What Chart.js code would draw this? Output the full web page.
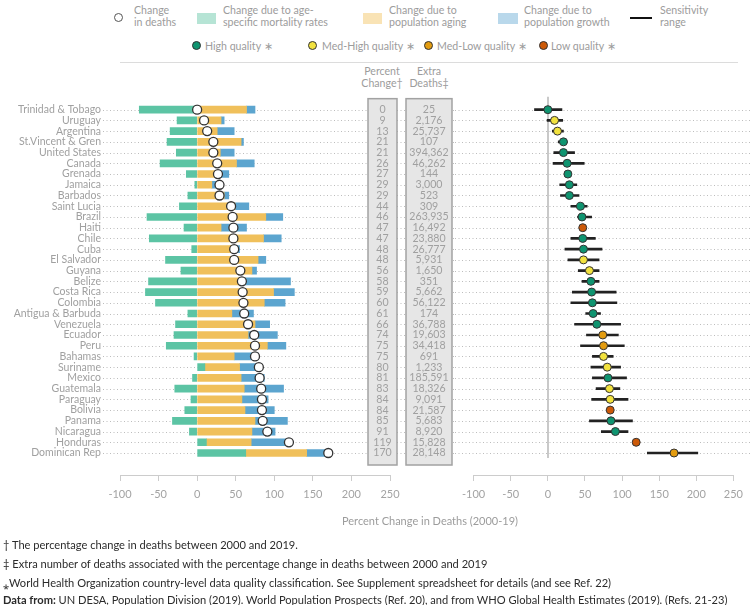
<!DOCTYPE html>
<html>
<head>
<meta charset="utf-8">
<script src="https://cdn.jsdelivr.net/npm/chart.js@4.4.1/dist/chart.umd.min.js"></script>
<style>
body { margin: 0; width: 750px; height: 605px; position: relative; background: #fff; font-family: Lato, "Open Sans", sans-serif; overflow: hidden; }
.abs { position: absolute; white-space: nowrap; }
.lg { font-size: 10.6px; line-height: 12px; color: #9c9c9c; }
.sw { position: absolute; }
.dot { position: absolute; width: 9px; height: 9px; border-radius: 50%; box-sizing: border-box; border: 1px solid #333; }
.foot { font-size: 11.1px; line-height: 14px; color: #2b2b2b; left: 3px; }
canvas { position: absolute; top: 0; }
</style>
</head>
<body>

<!-- legend row 1 -->
<div class="dot" style="left:114px;top:13px;background:#fff;border-color:#555"></div>
<div class="abs lg" style="left:134px;top:4px">Change<br>in deaths</div>
<div class="sw" style="left:197px;top:13px;width:19px;height:11px;background:#b6e4d5"></div>
<div class="abs lg" style="left:223px;top:4px">Change due to age-<br>specific mortality rates</div>
<div class="sw" style="left:363px;top:13px;width:19px;height:11px;background:#f9e3b5"></div>
<div class="abs lg" style="left:389px;top:4px">Change due to<br>population aging</div>
<div class="sw" style="left:498px;top:13px;width:20px;height:11px;background:#b9d8eb"></div>
<div class="abs lg" style="left:524px;top:4px">Change due to<br>population growth</div>
<div class="sw" style="left:630px;top:17px;width:22px;height:2px;background:#111"></div>
<div class="abs lg" style="left:660px;top:4px">Sensitivity<br>range</div>

<!-- legend row 2 -->
<div class="dot" style="left:192px;top:41px;background:#0f9470"></div>
<div class="abs lg" style="left:205px;top:40px">High quality ∗</div>
<div class="dot" style="left:308px;top:41px;background:#f2e23e"></div>
<div class="abs lg" style="left:322px;top:40px">Med-High quality ∗</div>
<div class="dot" style="left:424px;top:41px;background:#e39c10"></div>
<div class="abs lg" style="left:437px;top:40px">Med-Low quality ∗</div>
<div class="dot" style="left:539px;top:41px;background:#cc5908"></div>
<div class="abs lg" style="left:551px;top:40px">Low quality ∗</div>

<div class="sw" style="left:120px;top:62px;width:618px;height:1px;background:#dcdcdc"></div>

<div class="abs lg" style="left:347px;top:65px;width:70px;text-align:center">Percent<br>Change†</div>
<div class="abs lg" style="left:394px;top:65px;width:70px;text-align:center">Extra<br>Deaths‡</div>

<canvas id="leftChart" width="455" height="605" style="left:0"></canvas>
<canvas id="rightChart" width="295" height="605" style="left:455px"></canvas>

<div class="abs lg" style="left:330px;top:515px;width:200px;text-align:center;font-size:11px">Percent Change in Deaths (2000-19)</div>

<div class="abs foot" style="top:538px">† The percentage change in deaths between 2000 and 2019.</div>
<div class="abs foot" style="top:557px">‡ Extra number of deaths associated with the percentage change in deaths between 2000 and 2019</div>
<div class="abs foot" style="top:576px">⁎World Health Organization country-level data quality classification. See Supplement spreadsheet for details (and see Ref. 22)</div>
<div class="abs foot" style="top:593px"><b>Data from:</b> UN DESA, Population Division (2019). World Population Prospects (Ref. 20), and from WHO Global Health Estimates (2019). (Refs. 21-23)</div>

<script>
var countries = ["Trinidad & Tobago", "Uruguay", "Argentina", "St.Vincent & Gren", "United States", "Canada",
    "Grenada", "Jamaica", "Barbados", "Saint Lucia", "Brazil", "Haiti", "Chile", "Cuba", "El Salvador",
    "Guyana", "Belize", "Costa Rica", "Colombia", "Antigua & Barbuda", "Venezuela", "Ecuador", "Peru",
    "Bahamas", "Suriname", "Mexico", "Guatemala", "Paraguay", "Bolivia", "Panama", "Nicaragua",
    "Honduras", "Dominican Rep"];
var pctChange = [0, 9, 13, 21, 21, 26, 27, 29, 29, 44, 46, 47, 47, 48, 48, 56, 58, 59, 60, 61, 66, 74, 75,
    75, 80, 81, 83, 84, 84, 85, 91, 119, 170];
var extraDeaths = [25, 2176, 25737, 107, 394362, 46262, 144, 3000, 523, 309, 263935, 16492, 23880, 26777,
    5931, 1650, 351, 5662, 56122, 174, 36788, 19603, 34418, 691, 1233, 185591, 18326, 9091, 21587, 5683,
    8920, 15828, 28148];
var ageRates = [-75, -26, -35, -39, -27, -48, -14, -3, -12, -23, -65, -17, -62, -7, -41, -21, -63, -67, -54,
    -12, -28, -30, -40, -4, 10, -6, -29, -8, -16, -32, -10, 12, 63];
var popAging = [64, 31, 26, 57, 30, 51, 26, 19, 35, 49, 89, 31, 86, 47, 79, 71, 62, 99, 87, 45, 75, 66, 91,
    48, 45, 57, 61, 58, 62, 75, 71, 58, 79];
var popGrowth = [11, 4, 22, 3, 18, 23, 15, 13, 6, 18, 22, 33, 23, 8, 10, 6, 59, 27, 27, 28, 19, 38, 24, 31,
    25, 30, 51, 34, 38, 42, 30, 49, 28];
var sensLow = [-18, -1, 6, 14, 8, 7, null, 16, 17, 31, 40, null, 31, 23, 27, 41, 46, 33, 31, 51, 36, 52, 44,
    60, 58, 60, 65, 59, null, 56, 72, null, 134];
var sensHigh = [19, 20, 21, 26, 36, 49, null, 39, 42, 53, 59, null, 64, 73, 69, 69, 69, 92, 93, 71, 98, 95,
    103, 88, 98, 106, 97, 108, null, 114, 108, null, 202];
var quality = ["High", "Med-High", "Med-High", "High", "High", "High", "High", "High", "High", "High", "High",
    "Low", "High", "High", "Med-High", "Med-High", "High", "High", "High", "High", "High", "Med-Low",
    "Med-Low", "Med-High", "Med-High", "High", "Med-High", "Med-High", "Low", "High", "High", "Low", "Med-Low"];
var xMin = -100, xMax = 250, xStep = 50;

var qualityColors = { "High": "#0f9470", "Med-High": "#f2e23e", "Med-Low": "#e39c10", "Low": "#cc5908" };
var grey = "#a3a3a3";

// dotted guide line for each row
function rowLines(x0) {
    return {
        id: "rowLines",
        beforeDatasetsDraw: function (chart) {
            var ctx = chart.ctx, y = chart.scales.y;
            ctx.save();
            ctx.strokeStyle = "#bdbdbd";
            ctx.lineWidth = 1;
            ctx.setLineDash([1, 2.5]);
            countries.forEach(function (c, i) {
                var py = Math.round(y.getPixelForValue(i)) + 0.5;
                ctx.beginPath();
                ctx.moveTo(x0, py);
                ctx.lineTo(chart.width, py);
                ctx.stroke();
            });
            ctx.restore();
        }
    };
}

// the two grey boxes with percent change and extra deaths
var tablePlugin = {
    id: "tableBoxes",
    afterDatasetsDraw: function (chart) {
        var ctx = chart.ctx, y = chart.scales.y;
        var top = y.getPixelForValue(0) - 11;
        var bottom = y.getPixelForValue(countries.length - 1) + 12;
        var cols = [
            { x0: 368, x1: 397, vals: pctChange.map(String) },
            { x0: 406, x1: 452, vals: extraDeaths.map(function (v) { return v.toLocaleString("en-US"); }) }
        ];
        ctx.save();
        cols.forEach(function (col) {
            ctx.fillStyle = "#e6e6e6";
            ctx.fillRect(col.x0, top, col.x1 - col.x0, bottom - top);
            ctx.strokeStyle = "#a2a2a2";
            ctx.lineWidth = 1.5;
            ctx.strokeRect(col.x0, top, col.x1 - col.x0, bottom - top);
            ctx.fillStyle = "#a0a0a0";
            ctx.font = "10.6px Lato";
            ctx.textAlign = "center";
            ctx.textBaseline = "middle";
            col.vals.forEach(function (v, i) {
                ctx.fillText(v, (col.x0 + col.x1) / 2, y.getPixelForValue(i));
            });
        });
        ctx.restore();
    }
};

var zeroLine = {
    id: "zeroLine",
    beforeDatasetsDraw: function (chart) {
        var ctx = chart.ctx, x = chart.scales.x, y = chart.scales.y;
        var px = Math.round(x.getPixelForValue(0));
        ctx.save();
        ctx.strokeStyle = "#c9c9c9";
        ctx.lineWidth = 2;
        ctx.beginPath();
        ctx.moveTo(px, y.getPixelForValue(0) - 13);
        ctx.lineTo(px, y.getPixelForValue(countries.length - 1) + 5);
        ctx.stroke();
        ctx.restore();
    }
};

function xAxis() {
    return {
        type: "linear",
        min: xMin,
        max: xMax,
        stacked: true,
        afterFit: function (s) { s.height = 30; },
        ticks: { stepSize: xStep, color: grey, font: { family: "Lato", size: 11 }, padding: 7 },
        grid: { drawOnChartArea: false, tickLength: 6, color: "#cccccc" },
        border: { color: "#cccccc", width: 1 }
    };
}

function yAxis(show) {
    return {
        type: "linear",
        reverse: true,
        offset: false,
        min: -0.5,
        max: 34.05,
        stacked: true,
        display: show,
        afterBuildTicks: function (s) { s.ticks = countries.map(function (c, i) { return { value: i }; }); },
        afterFit: function (s) { if (show) s.width = 120; },
        ticks: {
            autoSkip: false,
            color: "#a0a0a0",
            font: { family: "Lato", size: 10.5 },
            padding: 19,
            callback: function (v) { return countries[v]; }
        },
        grid: { display: false, drawTicks: false, offset: false },
        border: { display: false }
    };
}

function rows(arr) {
    return arr.map(function (v, i) { return { x: v, y: i }; });
}

new Chart(document.getElementById("leftChart"), {
    type: "bar",
    data: {
        datasets: [
            {
                type: "line",
                data: rows(pctChange),
                showLine: false,
                pointRadius: 4.5,
                pointBackgroundColor: "#ffffff",
                pointBorderColor: "#333333",
                pointBorderWidth: 1.3,
                order: 0
            },
            { data: rows(ageRates), backgroundColor: "#5cc4a4", barThickness: 7, order: 1 },
            { data: rows(popAging), backgroundColor: "#f0c05b", barThickness: 7, order: 1 },
            { data: rows(popGrowth), backgroundColor: "#5ca5cf", barThickness: 7, order: 1 }
        ]
    },
    options: {
        indexAxis: "y",
        responsive: false,
        animation: false,
        events: [],
        devicePixelRatio: 1,
        layout: { padding: { top: 104.3, bottom: 100, left: 0, right: 65 } },
        plugins: { legend: { display: false }, tooltip: { enabled: false } },
        scales: { x: xAxis(), y: yAxis(true) }
    },
    plugins: [rowLines(103), tablePlugin]
});

var sensData = [];
sensLow.forEach(function (lo, i) {
    if (lo !== null) sensData.push({ x: [lo, sensHigh[i]], y: i });
});

new Chart(document.getElementById("rightChart"), {
    type: "bar",
    data: {
        datasets: [
            {
                type: "line",
                data: rows(pctChange),
                showLine: false,
                pointRadius: 4,
                pointBackgroundColor: quality.map(function (q) { return qualityColors[q]; }),
                pointBorderColor: "#333333",
                pointBorderWidth: 1,
                order: 0
            },
            { data: sensData, backgroundColor: "#222222", barThickness: 2, order: 1 }
        ]
    },
    options: {
        indexAxis: "y",
        responsive: false,
        animation: false,
        events: [],
        devicePixelRatio: 1,
        layout: { padding: { top: 104.3, bottom: 100, left: 13, right: 13 } },
        plugins: { legend: { display: false }, tooltip: { enabled: false } },
        scales: { x: xAxis(), y: yAxis(false) }
    },
    plugins: [rowLines(0), zeroLine]
});
</script>
</body>
</html>
